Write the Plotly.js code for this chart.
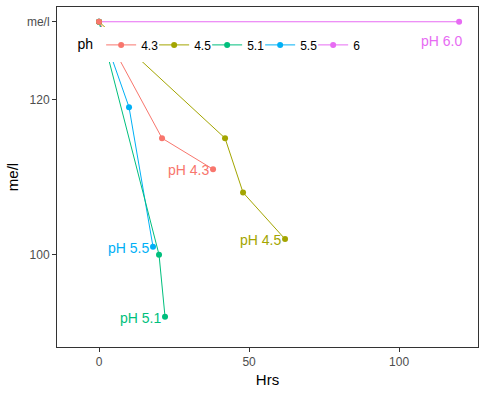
<!DOCTYPE html>
<html><head><meta charset="utf-8">
<script src="https://cdn.plot.ly/plotly-3.0.1.min.js"></script>
<style>html,body{margin:0;padding:0;background:#fff}#plot{width:486px;height:393px}</style>
</head><body><div id="plot"></div>
<script>
// Data (start value "me/l" is placed at the top of the y axis, value 130)
const phLevels = ["4.3", "4.5", "5.1", "5.5", "6"];
const colors = ["#F8766D", "#A3A500", "#00BF7D", "#00B0F6", "#E76BF3"];
const hrs43 = [0, 21, 38];
const val43 = [130, 115, 111];
const hrs45 = [0, 42, 48, 62];
const val45 = [130, 115, 108, 102];
const hrs51 = [0, 20, 22];
const val51 = [130, 100, 92];
const hrs55 = [0, 10, 18];
const val55 = [130, 119, 101];
const hrs60 = [0, 120];
const val60 = [130, 130];
const labels = ["pH 4.3", "pH 4.5", "pH 5.1", "pH 5.5", "pH 6.0"];
const yTickVals = [100, 120, 130];
const yTickText = ["100", "120", "me/l"];
const xTickVals = [0, 50, 100];

const xs = [hrs43, hrs45, hrs51, hrs55, hrs60];
const ys = [val43, val45, val51, val55, val60];

const traces = [];
const annotations = [];
for (let i = phLevels.length - 1; i >= 0; i--) {
  const n = xs[i].length;
  traces.push({
    type: "scatter", mode: "lines+markers",
    x: xs[i], y: ys[i], name: phLevels[i], legendrank: i + 1,
    line: {color: colors[i], width: 1},
    marker: {color: colors[i], size: 6},
    cliponaxis: false, hoverinfo: "skip"
  });
  const last = i === 4;
  annotations.push({
    x: xs[i][n - 1], y: ys[i][n - 1], xref: "x", yref: "y",
    text: labels[i], showarrow: false,
    xanchor: "right", yanchor: "middle",
    xshift: last ? 5 : -2, yshift: last ? -19 : -1,
    font: {family: "Liberation Sans, Arial", size: 14, color: colors[i]}
  });
}

const layout = {
  width: 486, height: 393,
  margin: {l: 57, r: 8, t: 7, b: 46},
  paper_bgcolor: "#fff", plot_bgcolor: "#fff",
  font: {family: "Liberation Sans, Arial", color: "#000"},
  showlegend: true,
  annotations: annotations,
  legend: {
    orientation: "h", x: 0.037, y: 0.94, xanchor: "left", yanchor: "top",
    bgcolor: "#fff", bordercolor: "#fff", borderwidth: 3,
    font: {size: 12, color: "#000"},
    title: {text: "ph", font: {size: 14}},
    traceorder: "normal", entrywidth: 8
  },
  xaxis: {
    range: [-14, 126.3], tickvals: xTickVals, showgrid: false, zeroline: false,
    showline: true, mirror: true, linecolor: "#333", linewidth: 1,
    ticks: "outside", ticklen: 4, tickcolor: "#333",
    tickfont: {size: 12, color: "#4d4d4d"},
    title: {text: "Hrs", font: {size: 15, color: "#000"}, standoff: 6}
  },
  yaxis: {
    range: [88.1, 131.9], tickvals: yTickVals, ticktext: yTickText,
    showgrid: false, zeroline: false,
    showline: true, mirror: true, linecolor: "#333", linewidth: 1,
    ticks: "outside", ticklen: 4, tickcolor: "#333",
    tickfont: {size: 12, color: "#4d4d4d"},
    title: {text: "me/l", font: {size: 15, color: "#000"}, standoff: 4}
  }
};
Plotly.newPlot("plot", traces, layout, {displayModeBar: false, staticPlot: true});
</script></body></html>
